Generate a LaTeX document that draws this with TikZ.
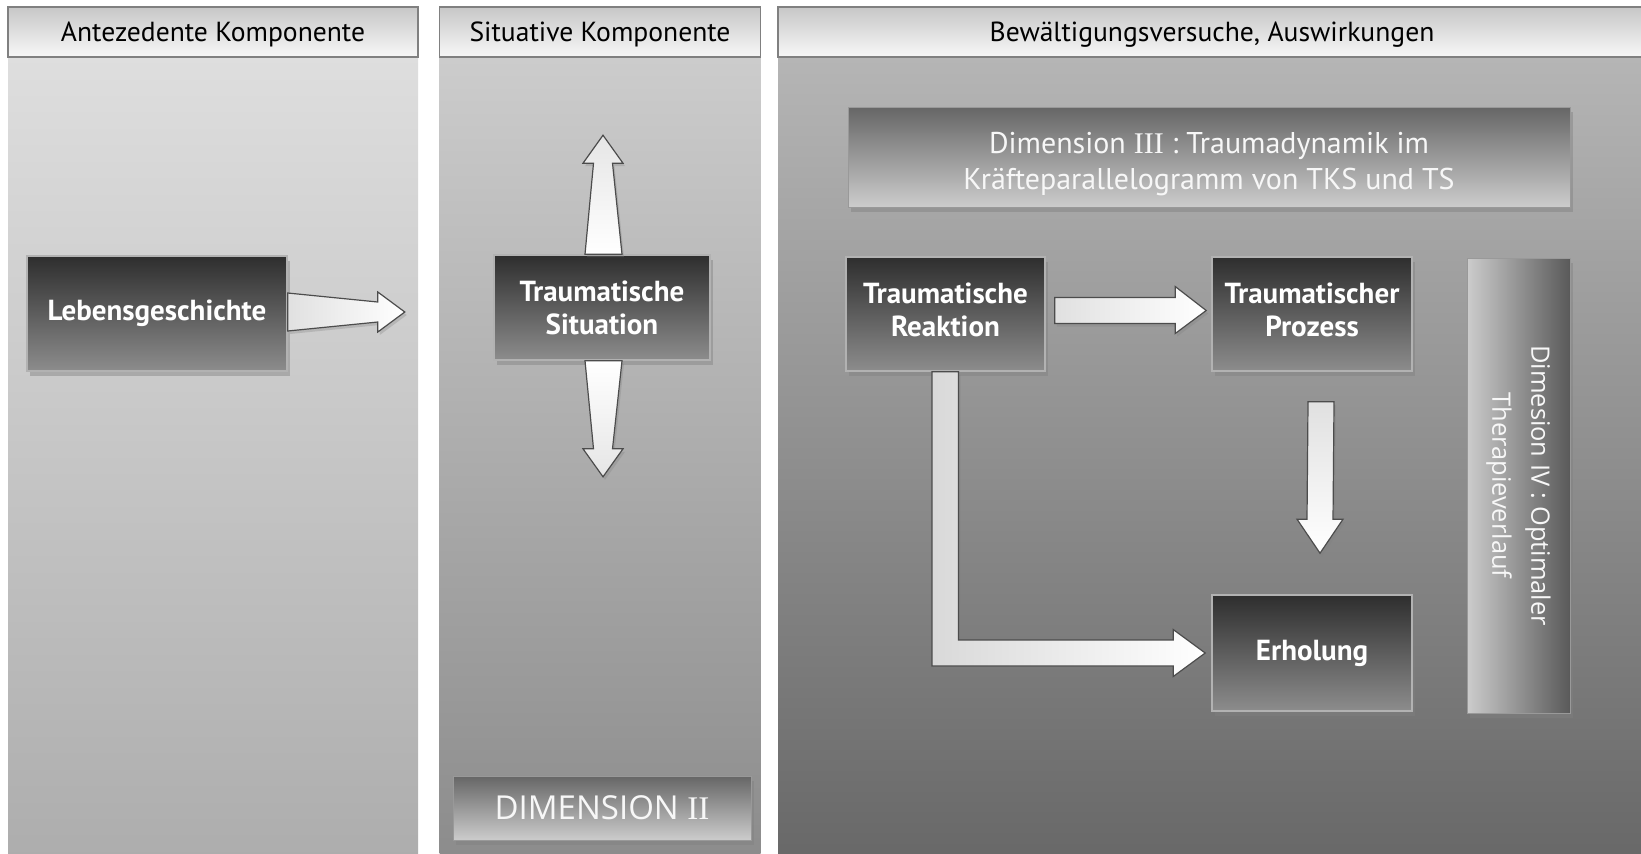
\documentclass[tikz,border=0pt]{standalone}
\usepackage{fontspec}
\setmainfont{PT Sans}
\newfontfamily\dimfont{Open Sans}
\newfontfamily\zahlfont{Liberation Serif}
\usepackage{tikz}
\usetikzlibrary{positioning,shadows,calc}
\tikzstyle{kopf} = [rectangle, draw=black!50, line width=0.8pt, top color=black!22,
    bottom color=black!3, minimum height=25pt, text depth=0pt,
    font=\fontsize{13.8}{16}\selectfont]
\tikzstyle{block} = [rectangle, draw=black!30, line width=0.8pt, top color=black!82,
    bottom color=black!45, text=white, align=center,
    font=\fontsize{14.5}{16.5}\selectfont\bfseries,
    drop shadow={opacity=0.45, shadow xshift=1.5pt, shadow yshift=-2.5pt}]
\tikzstyle{dimbox} = [rectangle, draw=black!40, top color=black!60, bottom color=black!20,
    text=black!3, align=center,
    drop shadow={opacity=0.45, shadow xshift=1.5pt, shadow yshift=-2.5pt}]
\tikzstyle{pfeilh} = [draw=black!70, line width=0.6pt, left color=black!12, right color=white,
    drop shadow={opacity=0.3, shadow xshift=1pt, shadow yshift=-1.5pt}]
\tikzstyle{pfeilv} = [draw=black!70, line width=0.6pt, top color=black!10, bottom color=white,
    drop shadow={opacity=0.3, shadow xshift=1pt, shadow yshift=-1.5pt}]

\begin{document}
\begin{tikzpicture}[x=0.5pt, y=-0.5pt, node distance=2cm]
  \clip (0,0) rectangle (1641,853);
  \fill[white] (0,0) rectangle (1641,853);
  % Spalten
  \fill[top color=black!13, bottom color=black!32] (8,57) rectangle (418,853);
  \fill[top color=black!20, bottom color=black!45] (439.5,57) rectangle (760.5,853);
  \fill[top color=black!29, bottom color=black!59] (778,57) rectangle (1641,853);
  \node [kopf, minimum width=205pt] (kopfa) at (213,32) {Antezedente Komponente};
  \node [kopf, minimum width=160.5pt] (kopfb) at (600,32) {Situative Komponente};
  \node [kopf, minimum width=434pt] (kopfc) at (1212,32) {Bewältigungsversuche, Auswirkungen};
  % Place nodes
  \node [block, minimum width=130pt, minimum height=57.5pt] (leben) at (157,313.5)
  {Lebensgeschichte};
  \node [block, minimum width=108pt, minimum height=52.5pt] (situation) at (602,307.5)
  {Traumatische\\Situation};
  \node [block, minimum width=99.5pt, minimum height=57pt, text depth=4pt] (reaktion)
  at (945.5,314) {Traumatische\\Reaktion};
  \node [block, minimum width=100pt, minimum height=57pt, text depth=4pt, right of=reaktion,
  node distance=183.25pt] (prozess) {Traumatischer\\Prozess};
  \node [block, minimum width=100pt, minimum height=58pt, below of=prozess,
  node distance=169.5pt] (erholung) {Erholung};
  \node [dimbox, minimum width=361pt, minimum height=50pt, text height=35.5pt,
  font=\fontsize{15}{18}\selectfont] (dimiii) at (1209,157)
  {Dimension {\zahlfont III} : Traumadynamik im\\Kräfteparallelogramm von TKS und TS};
  \node [dimbox, minimum width=149pt, minimum height=32pt,
  font=\dimfont\fontsize{16.5}{18}\selectfont] (dimii) at (602,808)
  {DIMENSION {\zahlfont II}};
  \node [dimbox, left color=black!20, right color=black!65, minimum width=51.5pt,
  minimum height=227.5pt] (dimiv) at (1518.5,485.5) {};
  \node [rotate=-90, text=black!3, align=center, font=\dimfont\fontsize{12.7}{19.5}\selectfont]
  (dimivtext) at (dimiv.center) {Dimesion IV : Optimaler\\Therapieverlauf};
  % Draw edges
  \path [pfeilh] ($(leben.east)+(0,-20.5)$) -- ($(leben.east)+(90,-11.5)$)
  -- ($(leben.east)+(90,-21.5)$) -- ($(leben.east)+(117,-1.5)$)
  -- ($(leben.east)+(90,18.5)$) -- ($(leben.east)+(90,8.5)$)
  -- ($(leben.east)+(0,17.5)$) -- cycle;
  \path [pfeilv] ($(situation.north)+(-17,0)$) -- ($(situation.north)+(-8.5,-91)$)
  -- ($(situation.north)+(-19,-91)$) -- ($(situation.north)+(1,-119)$)
  -- ($(situation.north)+(21,-91)$) -- ($(situation.north)+(10.5,-91)$)
  -- ($(situation.north)+(20,0)$) -- cycle;
  \path [pfeilv, top color=white, bottom color=black!10] ($(situation.south)+(-17,0)$)
  -- ($(situation.south)+(-8.5,88)$)
  -- ($(situation.south)+(-19,88)$) -- ($(situation.south)+(1,116)$)
  -- ($(situation.south)+(21,88)$) -- ($(situation.south)+(10.5,88)$)
  -- ($(situation.south)+(20,0)$) -- cycle;
  \path [pfeilh] ($(reaktion.east)+(9,-16.5)$) -- ($(prozess.west)+(-36,-16.5)$)
  -- ($(prozess.west)+(-36,-27.5)$) -- ($(prozess.west)+(-5,-3.5)$)
  -- ($(prozess.west)+(-36,19.5)$) -- ($(prozess.west)+(-36,9.5)$)
  -- ($(reaktion.east)+(9,9.5)$) -- cycle;
  \path [pfeilv, top color=black!12] ($(prozess.south)+(-4,30)$) -- ($(erholung.north)+(-5,-75)$)
  -- ($(erholung.north)+(-15,-75)$) -- ($(erholung.north)+(8,-41)$)
  -- ($(erholung.north)+(31,-75)$) -- ($(erholung.north)+(21,-75)$)
  -- ($(prozess.south)+(22,30)$) -- cycle;
  \path [pfeilh, left color=black!15] ($(reaktion.south)+(-13.5,0)$)
  |- ($(erholung.west)+(-38,13)$) -- ++(0,10.5) -- ($(erholung.west)+(-6,0)$)
  -- ($(erholung.west)+(-38,-23.5)$) -- ++(0,10.5) -| ($(reaktion.south)+(13,0)$)
  -- cycle;
\end{tikzpicture}
\end{document}
